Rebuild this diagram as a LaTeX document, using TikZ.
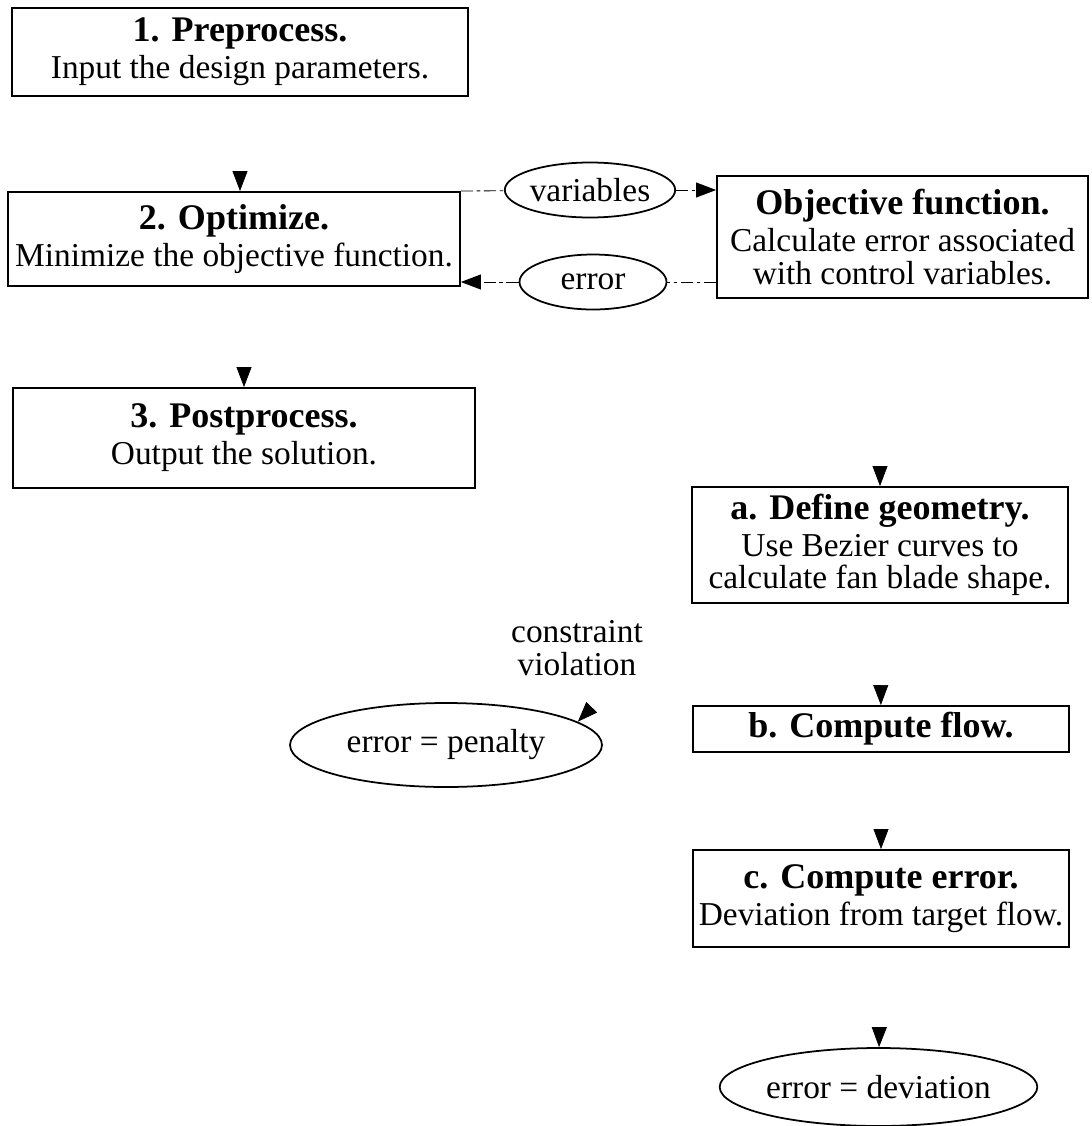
\documentclass[tikz,border=0pt]{standalone}
\usepackage{fontspec}
\setmainfont{Liberation Serif}
\usetikzlibrary{arrows.meta}
\usetikzlibrary{shapes.geometric}
\usetikzlibrary{decorations.markings}

\newcommand{\steptitle}[1]{{\fontsize{20.5}{23}\selectfont\bfseries #1}}

\begin{document}
\begin{tikzpicture}[x=0.02cm, y=-0.02cm,
	stepbox/.style={draw, line width=1.1pt, rectangle, align=center, inner sep=0pt, font=\fontsize{19}{18.5}\selectfont},
	oval/.style={draw, line width=1pt, ellipse, inner sep=0pt, font=\fontsize{19}{18.5}\selectfont},
	tiponly/.style={postaction={decorate}, decoration={markings, mark=at position 1 with {\arrow{Triangle[length=0.4cm, width=0.3cm]}}}},
	dataline/.style={line width=0.5pt, dash pattern=on 7pt off 2pt on 2pt off 2pt}]
	\useasboundingbox (0,0) rectangle (1092,1126);

	% main loop
	\node[stepbox, minimum width=9.12cm, minimum height=1.76cm] (pre) at (240,52)
		{\steptitle{1. Preprocess.}\\[2.5pt] Input the design parameters.};
	\node[stepbox, minimum width=9.04cm, minimum height=1.88cm] (opt) at (234,239)
		{\steptitle{2. Optimize.}\\[2.5pt] Minimize the objective function.};
	\node[stepbox, minimum width=9.24cm, minimum height=2.0cm] (post) at (244,438)
		{\steptitle{3. Postprocess.}\\[2.5pt] Output the solution.};

	% objective function
	\node[stepbox, minimum width=7.42cm, minimum height=2.44cm] (obj) at (902.5,237)
		{\steptitle{Objective function.}\\[2.5pt] Calculate error associated\\ with control variables.};
	\node[oval, minimum width=2.88cm, minimum height=1.1cm] (var) at (590,190) {variables};
	\node[oval, minimum width=2.94cm, minimum height=1.1cm] (err) at (593,282) {error};

	% inside the objective
	\node[stepbox, minimum width=7.52cm, minimum height=2.32cm] (geo) at (880,545)
		{\steptitle{a. Define geometry.}\\[2.5pt] Use Bezier curves to\\ calculate fan blade shape.};
	\node[stepbox, minimum width=7.52cm, minimum height=0.92cm] (flow) at (881,729)
		{\steptitle{b. Compute flow.}};
	\node[stepbox, minimum width=7.52cm, minimum height=1.94cm] (cmp) at (881,898.5)
		{\steptitle{c. Compute error.}\\[2.5pt] Deviation from target flow.};
	\node[oval, minimum width=6.14cm, minimum height=1.56cm] (dev) at (878.5,1087) {error = deviation};
	\node[oval, minimum width=6.24cm, minimum height=1.68cm] (pen) at (446,745) {error = penalty};
	\node[align=center, font=\fontsize{19}{18.5}\selectfont] (cv) at (577,648) {constraint\\ violation};

	% connectors
	\path[tiponly] (pre.south) -- (pre.south |- opt.north);
	\path[tiponly] (opt.south -| post.north) -- (post.north);
	\path[tiponly] (obj.south -| geo.north) -- (geo.north);
	\path[tiponly] (geo) -- (flow);
	\path[tiponly] (flow) -- (cmp);
	\path[tiponly] (cmp) -- (dev);
	\path[tiponly] (geo.south west) -- (pen.10);

	\draw[dataline] (opt.north east) -- (var);
	\draw[dataline, -{Triangle[length=0.4cm, width=0.3cm]}] (var) -- (var -| obj.west);
	\draw[dataline] (obj.west |- err) -- (err);
	\draw[dataline, -{Triangle[length=0.4cm, width=0.3cm]}] (err) -- (err -| opt.east);
\end{tikzpicture}
\end{document}
